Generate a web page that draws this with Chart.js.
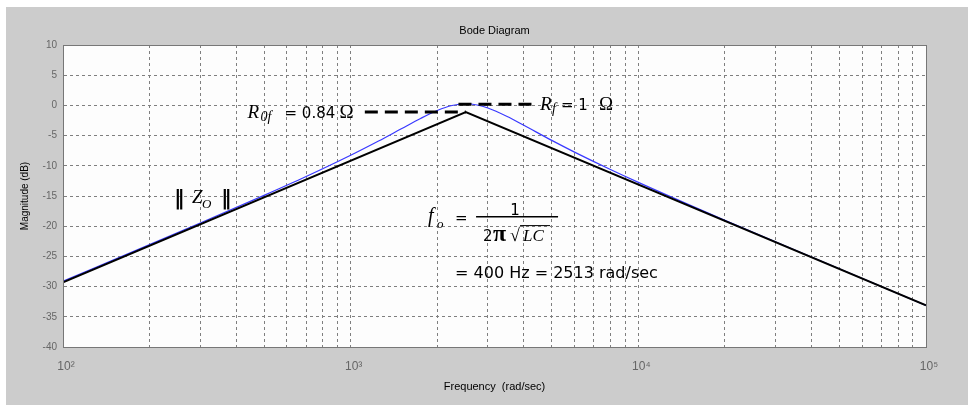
<!DOCTYPE html>
<html>
<head>
<meta charset="utf-8">
<script src="https://cdn.jsdelivr.net/npm/chart.js@4.4.1/dist/chart.umd.min.js"></script>
<style>
html, body { margin: 0; padding: 0; background: #fff; }
canvas { display: block; }
</style>
</head>
<body>
<canvas id="bodeChart" width="968" height="405"></canvas>
<script>
//------------------ データ ------------------//
// 漸近線 (黒)
const ASYM_FREQ = [100, 2513, 100000]
const ASYM_DB = [-29.3, -1.1, -33.1]
// |Zo| 実曲線 (青)
const ZO_FREQ = [100, 200, 300, 500, 700, 1000, 1250, 1500, 1750, 2000, 2250, 2513, 2750, 3000, 3500, 4000, 5000, 6000, 8000, 10000, 20000, 40000, 100000]
const ZO_DB = [-29.1, -23.05, -19.48, -14.9, -11.78, -8.26, -5.9, -3.87, -2.16, -0.84, -0.02, 0.27, 0.07, -0.43, -1.84, -3.3, -5.79, -7.73, -10.62, -12.75, -19.03, -25.1, -33.1]
// 破線 R0f / Rf
const R0F_FREQ = [1120, 2513]
const R0F_DB = [-1.1, -1.1]
const RF_FREQ = [2370, 4430]
const RF_DB = [0.2, 0.2]
// 目盛
const X_DECADES = [100, 1000, 10000, 100000]
const X_LABELS = ['10²', '10³', '10⁴', '10⁵']
const Y_TICKS = [10, 5, 0, -5, -10, -15, -20, -25, -30, -35, -40]
//--------------------------------------------//

const SANS = '"DejaVu Sans", sans-serif'
const SERIF = '"Liberation Serif", "DejaVu Serif", serif'
const UI = '"Liberation Sans", Arial, sans-serif'

// 配列 -> {x, y}
function toPoints(xs, ys){
    return xs.map((x, i) => ({x: x, y: ys[i]}))
}

// 対数軸の目盛 (1..9 x 10^n)
function logTicks(){
    const ticks = []
    for (let i = 0; i < X_DECADES.length - 1; i++){
        for (let k = 1; k < 10; k++){
            ticks.push({value: k * X_DECADES[i]})
        }
    }
    ticks.push({value: X_DECADES[X_DECADES.length - 1]})
    return ticks
}

// 線のデータセット
function lineSet(label, xs, ys, color, width, dash, order){
    return {
        label: label,
        data: toPoints(xs, ys),
        xAxisID: 'x',
        yAxisID: 'y',
        borderColor: color,
        borderWidth: width,
        borderDash: dash,
        pointRadius: 0,
        order: order
    }
}

/*--------------------------------------------------------------------
背景 (灰色の図枠 + 白いプロット領域)
--------------------------------------------------------------------*/
const backgroundPlugin = {
    id: 'background',
    beforeDraw(chart){
        const ctx = chart.ctx
        const a = chart.chartArea
        ctx.save()
        ctx.fillStyle = '#ffffff'
        ctx.fillRect(0, 0, chart.width, chart.height)
        ctx.fillStyle = '#cccccc'
        ctx.fillRect(6, 7, chart.width - 6, chart.height - 7)
        ctx.fillStyle = '#fdfdfd'
        ctx.fillRect(a.left, a.top, a.right - a.left, a.bottom - a.top)
        ctx.restore()
    },
    afterDraw(chart){
        // 枠 (上と右も)
        const ctx = chart.ctx
        const a = chart.chartArea
        ctx.save()
        ctx.strokeStyle = '#777777'
        ctx.lineWidth = 1
        ctx.strokeRect(a.left + 0.5, a.top + 0.5, a.right - a.left, a.bottom - a.top)
        ctx.restore()
    }
}

/*--------------------------------------------------------------------
注釈テキスト
--------------------------------------------------------------------*/
function put(ctx, text, font, x, y){
    ctx.font = font
    ctx.fillText(text, x, y)
}

const notePlugin = {
    id: 'notes',
    afterDatasetsDraw(chart){
        const ctx = chart.ctx
        const xs = chart.scales.x
        const ys = chart.scales.y
        ctx.save()
        ctx.fillStyle = '#000'
        ctx.strokeStyle = '#000'
        ctx.textBaseline = 'alphabetic'
        ctx.textAlign = 'left'

        // R0f = 0.84 Ω
        let x = xs.getPixelForValue(438)
        let y = ys.getPixelForValue(-1.1)
        put(ctx, 'R', 'italic 19px ' + SERIF, x, y + 5.5)
        put(ctx, '0f', 'italic 14px ' + SERIF, x + 13, y + 8.5)
        put(ctx, '= 0.84', '15px ' + SANS, x + 37, y + 5.5)
        put(ctx, 'Ω', '19px ' + SERIF, x + 92, y + 5.5)

        // Rf = 1 Ω
        x = xs.getPixelForValue(4550)
        y = ys.getPixelForValue(0.2)
        put(ctx, 'R', 'italic 19px ' + SERIF, x, y + 5.5)
        put(ctx, 'f', 'italic 14px ' + SERIF, x + 12, y + 8.5)
        put(ctx, '= 1', '15px ' + SANS, x + 21, y + 5.5)
        put(ctx, 'Ω', '19px ' + SERIF, x + 59, y + 5.5)

        // ‖ Zo ‖
        x = xs.getPixelForValue(247)
        y = ys.getPixelForValue(-15.18)
        put(ctx, '‖', 'bold 21px "DejaVu Serif", serif', x - 2, y + 7.5)
        put(ctx, 'Z', 'italic 19px ' + SERIF, x + 16, y + 5.7)
        put(ctx, 'O', 'italic 13px ' + SERIF, x + 26, y + 10.5)
        put(ctx, '‖', 'bold 21px "DejaVu Serif", serif', x + 45, y + 7.5)

        // fo = 1 / (2π√LC)
        x = xs.getPixelForValue(1858)
        y = ys.getPixelForValue(-18.66)
        put(ctx, 'f', 'italic 20px ' + SERIF, x, y + 4)
        put(ctx, 'o', 'italic 13px ' + SERIF, x + 9, y + 9.5)
        put(ctx, '=', '15px ' + SANS, x + 27, y + 4.5)
        ctx.lineWidth = 1.5
        ctx.beginPath()
        ctx.moveTo(x + 48, y - 1.3)
        ctx.lineTo(x + 130, y - 1.3)
        ctx.stroke()
        ctx.textAlign = 'center'
        put(ctx, '1', '15px ' + SANS, x + 87, y - 3)
        ctx.textAlign = 'left'
        put(ctx, '2', '15px ' + SANS, x + 55, y + 23)
        put(ctx, 'π', 'bold 24px ' + SERIF, x + 65, y + 23)
        put(ctx, '√', '18px ' + SERIF, x + 82, y + 23)
        put(ctx, 'LC', 'italic 17px ' + SERIF, x + 95, y + 23)
        ctx.lineWidth = 1
        ctx.beginPath()
        ctx.moveTo(x + 92, y + 7.5)
        ctx.lineTo(x + 122, y + 7.5)
        ctx.stroke()
        put(ctx, '= 400 Hz = 2513 rad/sec', '16px ' + SANS, x + 27, y + 60)
        ctx.restore()
    }
}

/*--------------------------------------------------------------------
グラフ作成
--------------------------------------------------------------------*/
const ctx = document.getElementById('bodeChart')
const zoSet = lineSet('|Zo|', ZO_FREQ, ZO_DB, '#3838ff', 1.2, [], 1)
zoSet.cubicInterpolationMode = 'monotone'

const myChart = new Chart(ctx, {
    type: 'line',
    data: {
        datasets: [
            lineSet('asymptote', ASYM_FREQ, ASYM_DB, '#000000', 2, [], 0),
            zoSet,
            lineSet('R0f', R0F_FREQ, R0F_DB, '#000000', 3, [13, 7], 0),
            lineSet('Rf', RF_FREQ, RF_DB, '#000000', 3, [13, 7], 0)
        ]
    },
    options: {
        responsive: false,
        animation: false,
        devicePixelRatio: 1,
        layout: {padding: {left: 0, right: 42, top: 0, bottom: 0}},
        plugins: {
            legend: {display: false},
            tooltip: {enabled: false}
        },
        scales: {
            x: {
                type: 'logarithmic',
                min: 100,
                max: 100000,
                afterBuildTicks: (s) => { s.ticks = logTicks() },
                afterFit: (s) => { s.height = 58 },
                ticks: {
                    autoSkip: false,
                    maxRotation: 0,
                    color: '#666666',
                    padding: 12,
                    labelOffset: 3,
                    font: {family: UI, size: 12},
                    callback: function(value){
                        const i = X_DECADES.indexOf(value)
                        return i >= 0 ? X_LABELS[i] : ''
                    }
                },
                grid: {color: '#7f7f7f', lineWidth: 1, drawTicks: false},
                border: {color: '#777777', width: 1, dash: [3, 3]},
                title: {
                    display: true,
                    text: 'Frequency  (rad/sec)',
                    color: '#000000',
                    font: {family: UI, size: 11, lineHeight: 1.2},
                    padding: {top: 0, bottom: 11}
                }
            },
            y: {
                type: 'linear',
                min: -40,
                max: 10,
                afterBuildTicks: (s) => { s.ticks = Y_TICKS.map(v => ({value: v})) },
                afterFit: (s) => { s.width = 63 },
                ticks: {
                    color: '#666666',
                    padding: 6,
                    font: {family: UI, size: 10}
                },
                grid: {color: '#7f7f7f', lineWidth: 1, drawTicks: false},
                border: {color: '#777777', width: 1, dash: [3, 3]},
                title: {
                    display: true,
                    text: 'Magnitude (dB)',
                    color: '#000000',
                    font: {family: UI, size: 10, lineHeight: 1.2},
                    padding: {top: 19, bottom: 0}
                }
            },
            // タイトル用の上軸 (プロット領域の中央に置くため)
            top: {
                type: 'linear',
                position: 'top',
                min: 0,
                max: 1,
                afterFit: (s) => { s.height = 45 },
                ticks: {display: false},
                grid: {display: false, drawTicks: false},
                border: {display: false},
                title: {
                    display: true,
                    text: 'Bode Diagram',
                    color: '#000000',
                    font: {family: UI, size: 11, lineHeight: 1.2},
                    padding: {top: 24.4, bottom: 0}
                }
            }
        }
    },
    plugins: [backgroundPlugin, notePlugin]
})
</script>
</body>
</html>
